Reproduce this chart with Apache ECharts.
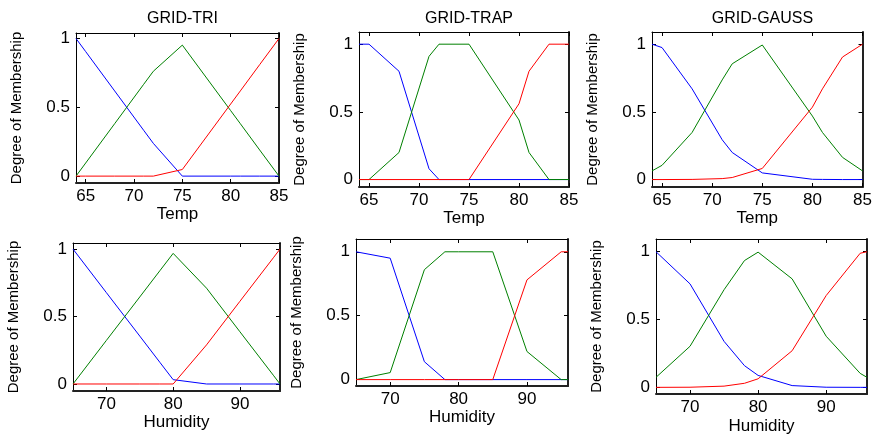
<!DOCTYPE html>
<html>
<head>
<meta charset="utf-8">
<script src="https://cdn.jsdelivr.net/npm/echarts@6/dist/echarts.min.js"></script>
<style>
  html, body { margin: 0; padding: 0; background: #fff; }
  #chart { width: 875px; height: 440px; }
</style>
</head>
<body>
<div id="chart"></div>
<script>
// sample points of the inputs
const tempX = [64, 65, 68, 71, 72, 75, 80, 81, 83, 85];
const humX = [65, 70, 75, 78, 80, 85, 90, 95, 96];

// GRID-TRI, Temp
const triTempLow = [1, 0.905, 0.619, 0.333, 0.238, 0, 0, 0, 0, 0];
const triTempMid = [0, 0.095, 0.381, 0.667, 0.762, 0.952, 0.476, 0.381, 0.19, 0];
const triTempHigh = [0, 0, 0, 0, 0, 0.048, 0.524, 0.619, 0.81, 1];
// GRID-TRAP, Temp
const trapTempLow = [1, 1, 0.8, 0.08, 0, 0, 0, 0, 0, 0];
const trapTempMid = [0, 0, 0.2, 0.91, 1, 1, 0.44, 0.2, 0, 0];
const trapTempHigh = [0, 0, 0, 0, 0, 0, 0.56, 0.8, 1, 1];
// GRID-GAUSS, Temp
const gaussTempLow = [1, 0.975, 0.67, 0.294, 0.2, 0.049, 0.002, 0.001, 0, 0];
const gaussTempMid = [0.064, 0.105, 0.348, 0.736, 0.855, 0.994, 0.469, 0.348, 0.164, 0.064];
const gaussTempHigh = [0, 0, 0.001, 0.007, 0.015, 0.082, 0.535, 0.67, 0.905, 1];

// GRID-TRI, Humidity
const triHumLow = [1, 0.677, 0.355, 0.161, 0.032, 0, 0, 0, 0];
const triHumMid = [0, 0.323, 0.645, 0.839, 0.968, 0.71, 0.387, 0.065, 0];
const triHumHigh = [0, 0, 0, 0, 0, 0.29, 0.613, 0.935, 1];
// GRID-TRAP, Humidity
const trapHumLow = [1, 0.95, 0.14, 0, 0, 0, 0, 0, 0];
const trapHumMid = [0, 0.055, 0.86, 1, 1, 1, 0.22, 0, 0];
const trapHumHigh = [0, 0, 0, 0, 0, 0, 0.78, 1, 1];
// GRID-GAUSS, Humidity
const gaussHumLow = [1, 0.763, 0.339, 0.16, 0.088, 0.013, 0.001, 0, 0];
const gaussHumMid = [0.074, 0.303, 0.72, 0.935, 0.997, 0.8, 0.377, 0.103, 0.074];
const gaussHumHigh = [0, 0.001, 0.009, 0.03, 0.063, 0.27, 0.677, 0.989, 1];

// tick labels
const tempTicks = [65, 70, 75, 80, 85];
const humTicks = [70, 80, 90];
const yTicks = [0, 0.5, 1];
const titles = ['GRID-TRI', 'GRID-TRAP', 'GRID-GAUSS'];

const font = 'Liberation Sans, Arial, sans-serif';
const colors = ['#0000ff', '#008000', '#ff0000'];

const panels = [
  { box: [76, 33, 203, 150], x: tempX, xr: [64, 85], yr: [-0.05, 1.04], ticks: tempTicks, name: 'Temp', gap: 22, lines: [triTempLow, triTempMid, triTempHigh] },
  { box: [359, 32, 210, 155], x: tempX, xr: [64, 85], yr: [-0.055, 1.09], ticks: tempTicks, name: 'Temp', gap: 22, lines: [trapTempLow, trapTempMid, trapTempHigh] },
  { box: [652, 32, 211, 155], x: tempX, xr: [64, 85], yr: [-0.055, 1.09], ticks: tempTicks, name: 'Temp', gap: 22, lines: [gaussTempLow, gaussTempMid, gaussTempHigh] },
  { box: [73, 243, 207, 148], x: humX, xr: [65, 96], yr: [-0.052, 1.045], ticks: humTicks, name: 'Humidity', gap: 22, lines: [triHumLow, triHumMid, triHumHigh] },
  { box: [356, 239, 212, 147], x: humX, xr: [65, 96], yr: [-0.05, 1.1], ticks: humTicks, name: 'Humidity', gap: 23, lines: [trapHumLow, trapHumMid, trapHumHigh] },
  { box: [656, 239, 211, 155], x: humX, xr: [65, 96], yr: [-0.049, 1.094], ticks: humTicks, name: 'Humidity', gap: 24, lines: [gaussHumLow, gaussHumMid, gaussHumHigh] }
];

const grid = [], xAxis = [], yAxis = [], series = [], title = [];

panels.forEach(function (p, i) {
  grid.push({ left: p.box[0], top: p.box[1], width: p.box[2], height: p.box[3], containLabel: false });

  const lineThin = { show: true, onZero: false, lineStyle: { color: '#000', width: 1 } };
  const lineThick = { show: true, onZero: false, lineStyle: { color: '#222', width: 2 } };

  // bottom axis with labels
  xAxis.push({
    gridIndex: i, type: 'value', position: 'bottom', min: p.xr[0], max: p.xr[1],
    axisLine: lineThick,
    axisTick: { show: true, inside: true, length: 4, customValues: p.ticks, lineStyle: { color: '#000' } },
    axisLabel: { show: true, customValues: p.ticks, margin: 5, fontSize: 17, color: '#000', fontFamily: font },
    splitLine: { show: false },
    name: p.name, nameLocation: 'middle', nameGap: p.gap,
    nameTextStyle: { fontSize: 17, color: '#000', fontFamily: font }
  });
  // top mirror axis
  xAxis.push({
    gridIndex: i, type: 'value', position: 'top', min: p.xr[0], max: p.xr[1],
    axisLine: lineThin,
    axisTick: { show: true, inside: true, length: 4, customValues: p.ticks, lineStyle: { color: '#000' } },
    axisLabel: { show: false },
    splitLine: { show: false }
  });
  // left axis with labels
  yAxis.push({
    gridIndex: i, type: 'value', position: 'left', min: p.yr[0], max: p.yr[1],
    axisLine: lineThin,
    axisTick: { show: true, inside: true, length: 4, customValues: yTicks, lineStyle: { color: '#000' } },
    axisLabel: { show: true, customValues: yTicks, margin: 6, fontSize: 17, color: '#000', fontFamily: font },
    splitLine: { show: false },
    name: 'Degree of Membership', nameLocation: 'middle', nameGap: 52, nameRotate: 90,
    nameTextStyle: { fontSize: 15, color: '#000', fontFamily: font }
  });
  // right mirror axis
  yAxis.push({
    gridIndex: i, type: 'value', position: 'right', min: p.yr[0], max: p.yr[1],
    axisLine: lineThick,
    axisTick: { show: true, inside: true, length: 4, customValues: yTicks, lineStyle: { color: '#000' } },
    axisLabel: { show: false },
    splitLine: { show: false }
  });

  p.lines.forEach(function (ys, k) {
    series.push({
      type: 'line',
      xAxisIndex: i * 2,
      yAxisIndex: i * 2,
      data: p.x.map(function (x, j) { return [x, ys[j]]; }),
      symbol: 'none',
      animation: false,
      lineStyle: { color: colors[k], width: 1 },
      z: 2
    });
  });

  if (i < 3) {
    title.push({
      text: titles[i],
      left: p.box[0] + p.box[2] / 2,
      top: 6,
      textAlign: 'center',
      textStyle: { fontSize: 16, fontWeight: 'normal', color: '#000', fontFamily: font }
    });
  }
});

const chart = echarts.init(document.getElementById('chart'));
chart.setOption({
  animation: false,
  backgroundColor: '#fff',
  title: title,
  grid: grid,
  xAxis: xAxis,
  yAxis: yAxis,
  series: series
});
</script>
</body>
</html>
